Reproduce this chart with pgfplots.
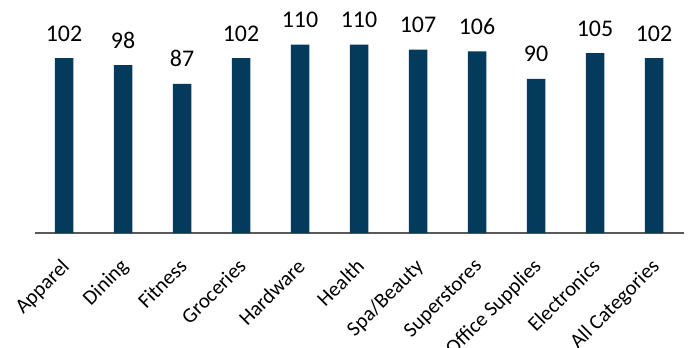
\documentclass[border=0pt]{standalone}
\usepackage{fontspec}
\setmainfont{Carlito}
\usepackage{pgfplots}
\pgfplotsset{compat=1.18}
\definecolor{barblue}{RGB}{4,58,92}
\definecolor{axgray}{RGB}{89,89,89}
\begin{document}
\begin{tikzpicture}
\begin{axis}[
  at={(0,0)}, anchor=south west,
  scale only axis, width=649bp, height=205.6bp,
  ybar, bar width=18.5bp,
  xmin=-0.5, xmax=10.5, ymin=0, ymax=120,
  axis x line*=bottom, axis y line=none,
  x axis line style={draw=axgray, line width=1.6bp},
  xtick=data, ytick=\empty,
  xtick style={draw=none},
  xticklabels={Apparel,Dining,Fitness,Groceries,Hardware,Health,Spa/Beauty,Superstores,Office Supplies,Electronics,All Categories},
  xticklabel style={font=\fontsize{21}{21}\selectfont, inner sep=0pt, xshift=-4bp, yshift=-20bp, rotate=45, anchor=north east},
  /pgf/number format/assume math mode=true,
  nodes near coords,
  every node near coord/.append style={font=\fontsize{24}{24}\selectfont, anchor=base, inner sep=0pt, yshift=17bp, text=black},
  clip=false,
]
\addplot[fill=barblue, draw=none] coordinates {(0,102) (1,98) (2,87) (3,102) (4,110) (5,110) (6,107) (7,106) (8,90) (9,105) (10,102)};
\end{axis}
\pgfresetboundingbox
\path[use as bounding box] (-34.5bp,-115bp) rectangle (656.5bp,233bp);
\end{tikzpicture}
\end{document}
